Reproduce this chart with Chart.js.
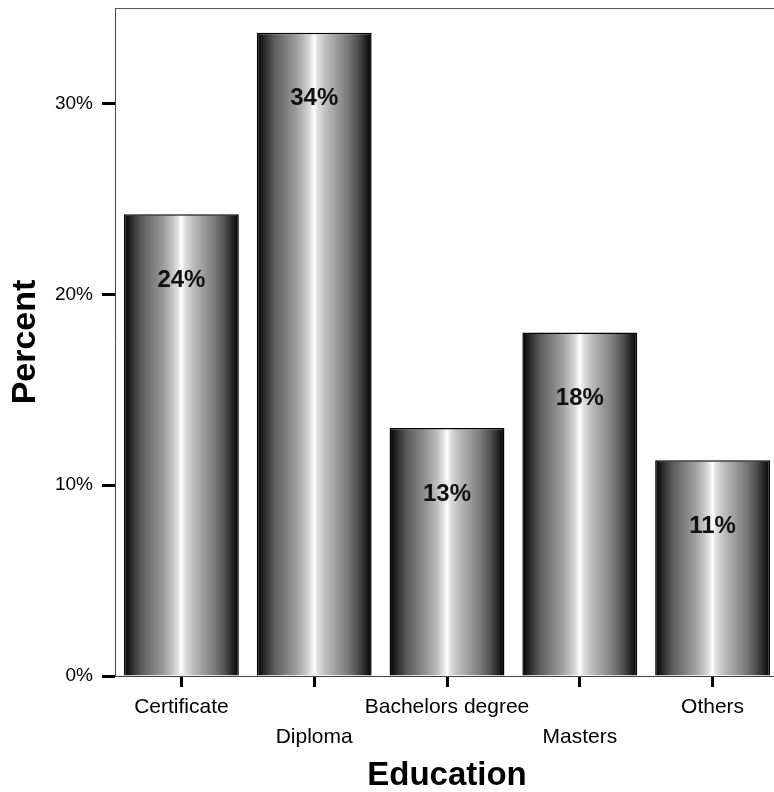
<!DOCTYPE html>
<html>
<head>
<meta charset="utf-8">
<title>Education</title>
<script src="https://cdn.jsdelivr.net/npm/chart.js@4/dist/chart.umd.min.js"></script>
<style>
  html, body { margin: 0; padding: 0; background: #fff; overflow: hidden; }
  #wrap { width: 800px; height: 792px; }
</style>
</head>
<body>
<div id="wrap"><canvas id="chart" width="800" height="792"></canvas></div>
<script>
// Share of respondents by highest education level (percent)
const categories = ['Certificate', 'Diploma', 'Bachelors degree', 'Masters', 'Others'];
const percentValues = [24.2, 33.7, 13.0, 18.0, 11.3];
const yTickValues = [0, 10, 20, 30];

const FONT = '"Liberation Sans", Arial, sans-serif';
const BAR_FRACTION = 0.865;

// Cylinder-style horizontal shading for each bar
function cylinderGradient(ctx, x0, x1) {
  const g = ctx.createLinearGradient(x0, 0, x1, 0);
  const stops = [
    [0.00, '#000000'], [0.03, '#141414'], [0.08, '#333333'], [0.15, '#5a5a5a'],
    [0.25, '#7c7c7c'], [0.35, '#a0a0a0'], [0.42, '#c2c2c2'], [0.47, '#e2e2e2'],
    [0.50, '#ffffff'], [0.53, '#e0e0e0'], [0.60, '#bdbdbd'], [0.70, '#9a9a9a'],
    [0.80, '#767676'], [0.88, '#4f4f4f'], [0.95, '#222222'], [1.00, '#000000']
  ];
  stops.forEach(([o, c]) => g.addColorStop(o, c));
  return g;
}

function barFill(c) {
  const chart = c.chart;
  const xs = chart.scales && chart.scales.x;
  if (!chart.chartArea || !xs) return '#888';
  const cx = xs.getPixelForValue(c.dataIndex);
  const w = xs.width / categories.length * BAR_FRACTION;
  return cylinderGradient(chart.ctx, cx - w / 2, cx + w / 2);
}

// Percentage printed inside each bar, below its top
const valueLabelPlugin = {
  id: 'valueLabels',
  afterDatasetsDraw(chart) {
    const ctx = chart.ctx;
    const ds = chart.data.datasets[0];
    ctx.save();
    ctx.font = 'bold 24px ' + FONT;
    ctx.fillStyle = '#111';
    ctx.textAlign = 'center';
    ctx.textBaseline = 'middle';
    chart.getDatasetMeta(0).data.forEach((el, i) => {
      ctx.fillText(Math.round(ds.data[i]) + '%', el.x, el.y + 66);
    });
    ctx.restore();
  }
};

// Frame line along the top of the plot area
const framePlugin = {
  id: 'frame',
  afterDraw(chart) {
    const a = chart.chartArea;
    const ctx = chart.ctx;
    ctx.save();
    ctx.strokeStyle = '#555';
    ctx.lineWidth = 1;
    ctx.beginPath();
    ctx.moveTo(a.left, a.top + 0.5);
    ctx.lineTo(a.right, a.top + 0.5);
    ctx.stroke();
    ctx.restore();
  }
};

Chart.defaults.color = '#000';
Chart.defaults.font.family = FONT;

new Chart(document.getElementById('chart'), {
  type: 'bar',
  data: {
    labels: categories,
    datasets: [{
      data: percentValues,
      backgroundColor: barFill,
      borderColor: '#000',
      borderWidth: 1.5,
      barPercentage: BAR_FRACTION,
      categoryPercentage: 1.0
    }]
  },
  options: {
    responsive: false,
    animation: false,
    layout: { padding: { top: 8, right: 21, left: 0, bottom: 0 } },
    plugins: {
      legend: { display: false },
      tooltip: { enabled: false }
    },
    scales: {
      x: {
        offset: true,
        grid: {
          display: true,
          offset: false,
          drawOnChartArea: false,
          drawTicks: true,
          tickLength: 11,
          tickWidth: 3,
          tickColor: '#000'
        },
        border: { display: true, color: '#444', width: 1 },
        ticks: {
          autoSkip: false,
          maxRotation: 0,
          minRotation: 0,
          padding: 5,
          font: { size: 21, lineHeight: 1.42 },
          color: '#000',
          callback: (v, i) => (i % 2 ? ['', categories[i]] : categories[i])
        },
        title: {
          display: true,
          text: 'Education',
          color: '#000',
          font: { size: 33, weight: 'bold', lineHeight: 1 },
          padding: { top: 0, bottom: 0 }
        },
        afterFit(scale) {
          scale.height = 116;
          scale.paddingLeft = 0;
          scale.paddingRight = 0;
        }
      },
      y: {
        min: 0,
        max: 35,
        grid: {
          display: true,
          drawOnChartArea: false,
          drawTicks: true,
          tickLength: 13,
          tickWidth: 3,
          tickColor: '#000'
        },
        border: { display: true, color: '#444', width: 1 },
        afterBuildTicks(scale) {
          scale.ticks = yTickValues.map(v => ({ value: v }));
        },
        ticks: {
          padding: 9,
          font: { size: 19 },
          color: '#000',
          callback: v => v + '%'
        },
        title: {
          display: true,
          text: 'Percent',
          color: '#000',
          font: { size: 34, weight: 'bold', lineHeight: 1 },
          padding: { top: 9, bottom: 0 }
        },
        afterFit(scale) {
          scale.width = 115;
          scale.paddingTop = 0;
          scale.paddingBottom = 0;
        }
      }
    }
  },
  plugins: [valueLabelPlugin, framePlugin]
});
</script>
</body>
</html>
